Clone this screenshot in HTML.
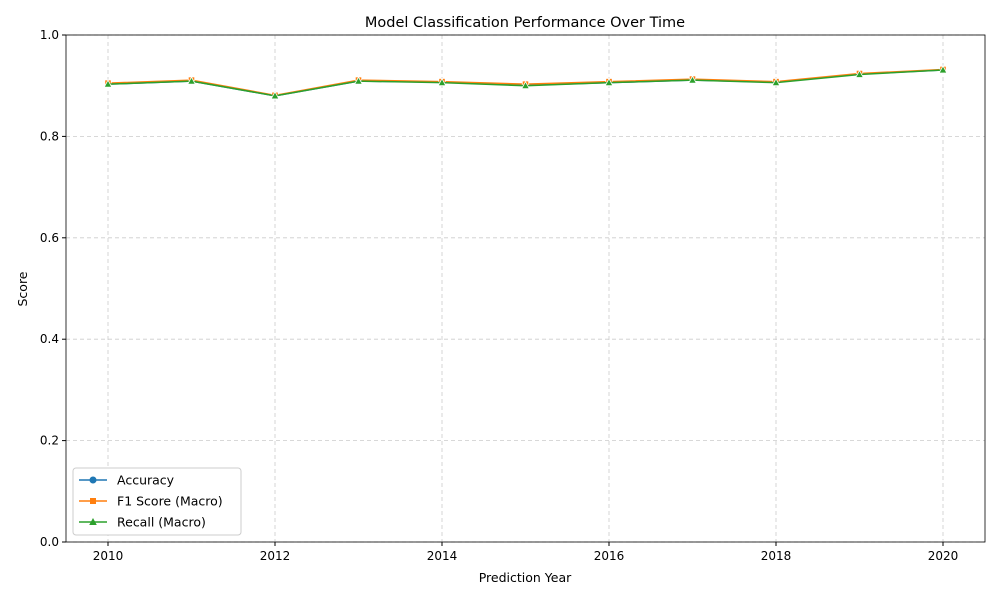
<!DOCTYPE html>
<html><head><meta charset="utf-8"><style>
body{margin:0;background:#fff;}
svg{font-family:"DejaVu Sans","Liberation Sans",sans-serif;}
</style></head><body>
<svg id="chart" width="1000" height="600"></svg>
<script>
const years=[2010,2011,2012,2013,2014,2015,2016,2017,2018,2019,2020];
const accuracy=[0.903,0.909,0.880,0.909,0.907,0.901,0.906,0.911,0.907,0.923,0.931];
const f1=[0.905,0.911,0.881,0.911,0.908,0.903,0.908,0.913,0.908,0.924,0.932];
const recall=[0.903,0.909,0.880,0.909,0.906,0.900,0.906,0.911,0.906,0.922,0.931];
const yTicks=[0,0.2,0.4,0.6,0.8,1.0];
const xTicks=[2010,2012,2014,2016,2018,2020];
const NS="http://www.w3.org/2000/svg";
const svg=document.getElementById('chart');
const L=66,R=985,T=35,B=542;
const xs=v=>108+(v-2010)*(943-108)/10;
const ys=v=>B-v*(B-T);
function el(t,a,p){const e=document.createElementNS(NS,t);for(const k in a)e.setAttribute(k,a[k]);(p||svg).appendChild(e);return e;}
function txt(s,a){const e=el('text',a);e.textContent=s;return e;}
let g=el('g',{});
xTicks.forEach(v=>{el('line',{x1:xs(v),x2:xs(v),y1:T,y2:B,stroke:'#ccc','stroke-dasharray':'4,3','stroke-width':0.8},g);});
yTicks.forEach(v=>{el('line',{x1:L,x2:R,y1:ys(v),y2:ys(v),stroke:'#ccc','stroke-dasharray':'4,3','stroke-width':0.8},g);});
const series=[[accuracy,'#1f77b4','o'],[f1,'#ff7f0e','s'],[recall,'#2ca02c','^']];
const names=['accuracy','f1-score','recall'];
series.forEach(([d,c,m],i)=>{
 const sg=el('g',{});
 el('polyline',{points:d.map((v,j)=>xs(years[j])+','+ys(v)).join(' '),fill:'none',stroke:c,'stroke-width':1.5},sg);
 d.forEach((v,j)=>{const x=xs(years[j]),y=ys(v);let p;
  if(m=='o')p=el('circle',{cx:x,cy:y,r:3.5,fill:c,stroke:'#fff','stroke-width':0.8},sg);
  else if(m=='s')p=el('rect',{x:x-3.2,y:y-3.2,width:6.4,height:6.4,fill:c,stroke:'#fff','stroke-width':0.8},sg);
  else p=el('polygon',{points:`${x},${y-4} ${x-3.8},${y+3} ${x+3.8},${y+3}`,fill:c,stroke:'#fff','stroke-width':0.8},sg);
  });
});
el('rect',{x:L,y:T,width:R-L,height:B-T,fill:'none',stroke:'#000','stroke-width':0.8});
xTicks.forEach(v=>{el('line',{x1:xs(v),x2:xs(v),y1:B,y2:B+4,stroke:'#000'});
 const t=txt(v,{x:xs(v),y:B+18,'text-anchor':'middle','font-size':12});});
yTicks.forEach(v=>{el('line',{x1:L-4,x2:L,y1:ys(v),y2:ys(v),stroke:'#000'});
 const t=txt(v.toFixed(1),{x:L-7,y:ys(v)+4,'text-anchor':'end','font-size':12});});
let t=txt('Model Classification Performance Over Time',{x:525,y:27,'text-anchor':'middle','font-size':14.5});
t=txt('Prediction Year',{x:525,y:582,'text-anchor':'middle','font-size':12.5});
t=txt('Score',{x:27,y:289,'text-anchor':'middle','font-size':12.5,transform:'rotate(-90 27 289)'});
const lg=el('g',{});
el('rect',{x:73,y:468,width:168,height:67,fill:'#fff',stroke:'#ccc',rx:3},lg);
['Accuracy','F1 Score (Macro)','Recall (Macro)'].forEach((n,i)=>{const y=480+i*21,c=series[i][1];
 const e=el('g',{},lg);
 el('line',{x1:79,x2:107,y1:y,y2:y,stroke:c,'stroke-width':1.5},e);
 if(i==0)el('circle',{cx:93,cy:y,r:3.5,fill:c},e);else if(i==1)el('rect',{x:90,y:y-3,width:6,height:6,fill:c},e);else el('polygon',{points:`93,${y-4} 89.2,${y+3} 96.8,${y+3}`,fill:c},e);
 const tt=el('text',{x:117,y:y+4.5,'font-size':12.5},e);tt.textContent=n;});
</script>
</body></html>
